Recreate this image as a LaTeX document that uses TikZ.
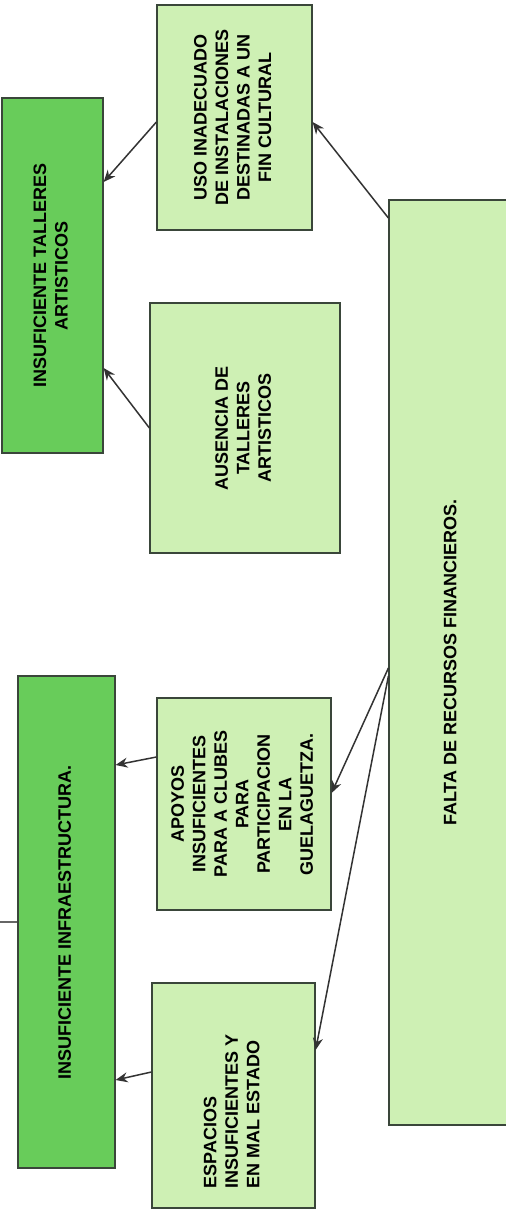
\documentclass[tikz,border=0pt]{standalone}
\usepackage{fontspec}
\setmainfont{Liberation Sans}
\usetikzlibrary{arrows.meta}
\definecolor{verdeclaro}{RGB}{206,240,180}
\definecolor{verdeoscuro}{RGB}{104,204,90}
\definecolor{borde}{RGB}{58,70,58}
\newcommand{\vtexto}[2][c]{\rotatebox{90}{\begin{tabular}{@{}#1@{}}#2\end{tabular}}}

\begin{document}
\begin{tikzpicture}[x=1pt,y=-1pt,
  causa/.style={draw=borde,line width=1.2pt,fill=verdeclaro,inner sep=0pt,font=\bfseries\fontsize{18}{21.5}\selectfont},
  efecto/.style={draw=borde,line width=1.2pt,fill=verdeoscuro,inner sep=0pt,font=\bfseries\fontsize{18}{21.5}\selectfont},
  flecha/.style={line width=1.5pt,draw=black!80,-{Stealth[length=12pt,width=10pt]}}]
\useasboundingbox (0,0) rectangle (506,1216);
\clip (0,0) rectangle (506,1216);
\fill[white] (0,0) rectangle (506,1216);

\node[efecto,minimum width=101pt,minimum height=355pt] (talleres) at (52.5,275.5)
  {\vtexto{INSUFICIENTE TALLERES\\ARTISTICOS}};
\node[causa,minimum width=155pt,minimum height=225pt] (uso) at (234.5,117.5)
  {\vtexto{USO INADECUADO\\DE INSTALACIONES\\DESTINADAS A UN\\FIN CULTURAL}};
\node[causa,minimum width=190pt,minimum height=250pt] (ausencia) at (245,428)
  {\vtexto{AUSENCIA DE\\TALLERES\\ARTISTICOS}};
\node[causa,minimum width=126pt,minimum height=925pt] (falta) at (452,662.5)
  {\vtexto{FALTA DE RECURSOS FINANCIEROS.}};
\node[efecto,minimum width=97pt,minimum height=492pt] (infra) at (66.5,922)
  {\vtexto{INSUFICIENTE INFRAESTRUCTURA.}};
\node[causa,minimum width=174pt,minimum height=212pt] (apoyos) at (244,804)
  {\vtexto{APOYOS\\INSUFICIENTES\\PARA A CLUBES\\PARA\\PARTICIPACION\\EN LA\\GUELAGUETZA.}};
\node[causa,minimum width=163pt,minimum height=225pt] (espacios) at (233.5,1095.5)
  {\rotatebox{90}{\begin{tabular}{@{}l@{}}ESPACIOS\\INSUFICIENTES Y\\EN MAL ESTADO\end{tabular}\hspace{32pt}}};

\coordinate (borde) at (0,922);

\draw[flecha] (uso.west |- 0,122) -- (talleres.east |- 0,182);
\draw[flecha] (falta.west |- 0,218) -- (uso.east |- 0,122);
\draw[flecha] (ausencia.west |- 0,428) -- (talleres.east |- 0,368);
\draw[flecha] (falta.west |- 0,668) -- (apoyos.east |- 0,793);
\draw[flecha] (falta.west |- 0,676) -- (espacios.east |- 0,1050);
\draw[flecha] (apoyos.west |- 0,757) -- (infra.east |- 0,765);
\draw[flecha] (espacios.west |- 0,1072) -- (infra.east |- 0,1080);
\draw[line width=1.2pt,draw=black!60] (borde) -- (infra.west |- borde);
\end{tikzpicture}
\end{document}
